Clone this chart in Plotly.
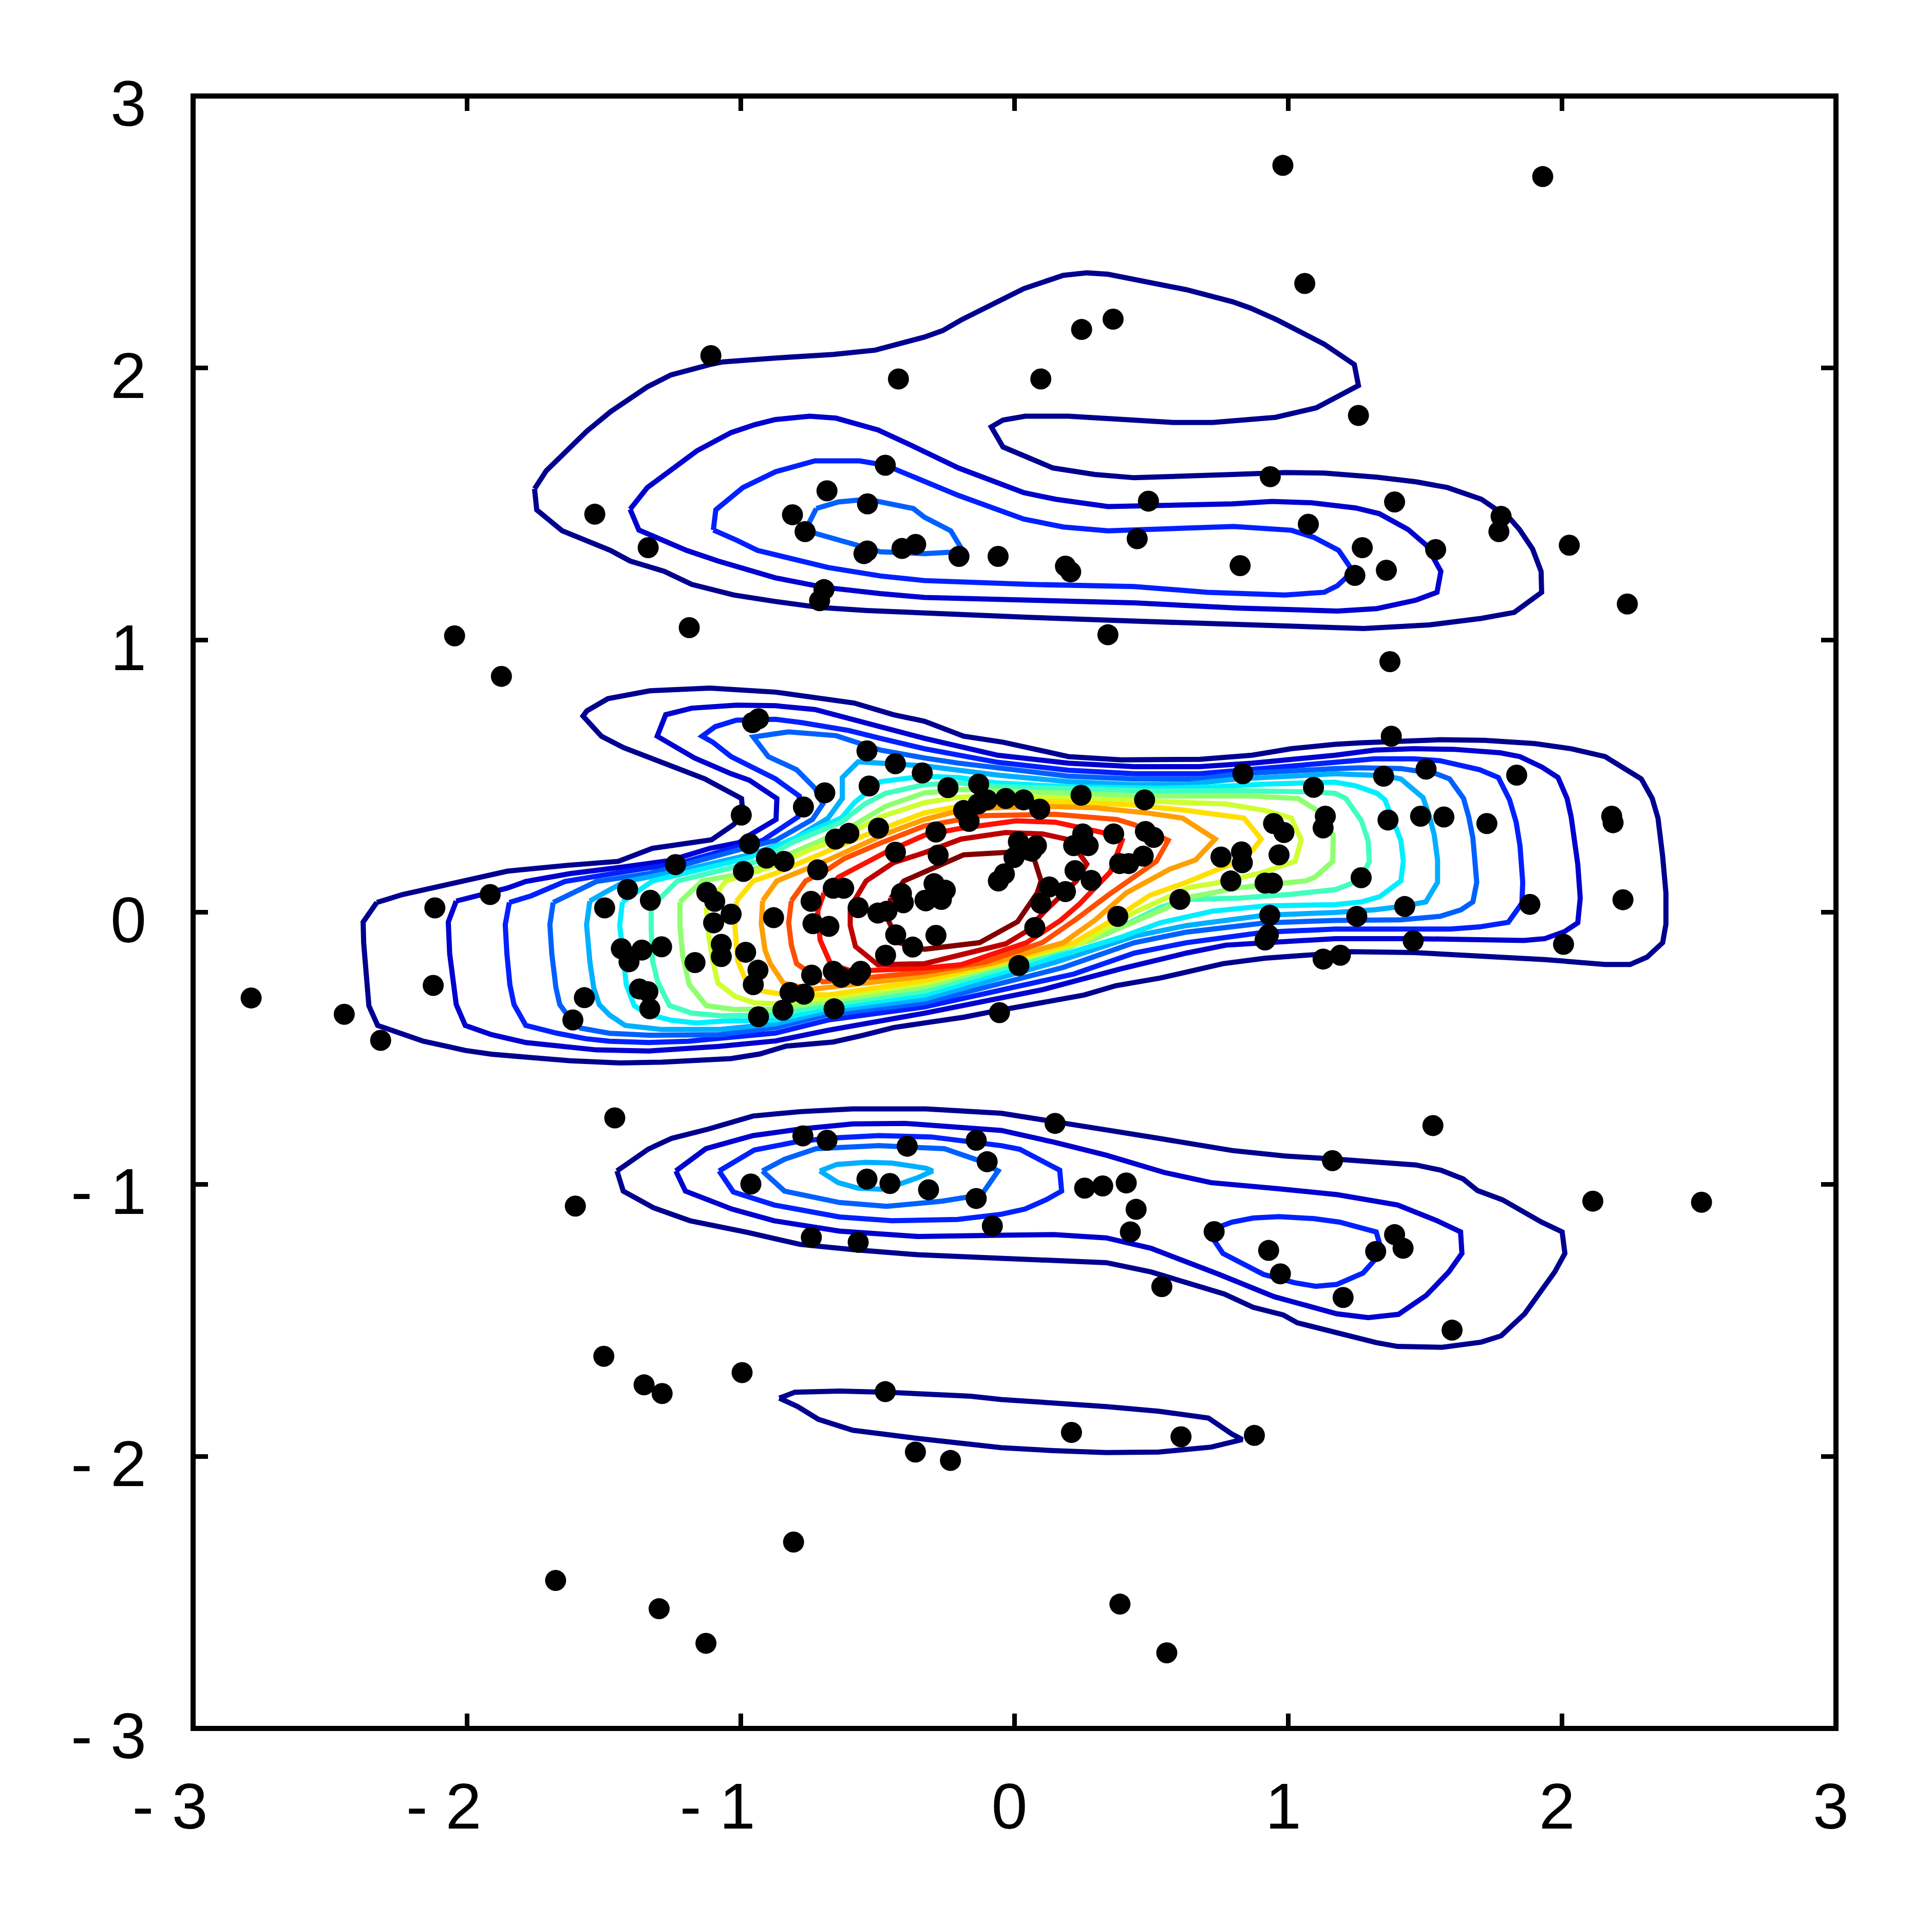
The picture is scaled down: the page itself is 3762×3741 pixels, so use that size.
import plotly.graph_objects as go

# ---------- scatter sample ----------
points_x = [-.957,-.935,-.539,-.435,-.337,-.531,-.693,-.771,-.998,-.968,-.906,-.842,-.990,-1.238,-1.413,-1.497,-1.330,-.497,-.654,-.605,-.435,-.719,-.743,-.662,-.624,-.571,-.499,-.466,-.413,-.406,-.327,-.434,-.372,-.471,-.736,-.678,-.880,-1.124,-1.095,-1.035,-1.099,-1.071,-1.071,-.982,-.937,-.954,-1.167,-1.289,-1.361,-1.436,-1.408,-1.370,-1.339,-1.332,-1.571,-1.613,-.741,-.820,-.769,-.846,-.935,-.659,-.662,-.633,-.574,-.562,
-.243,-.131,-.100,-.133,-.186,-.166,-.032,.033,.092,.243,.475,-.287,-.279,-.294,-.253,-.267,-.324,.014,.080,.063,-.002,-.037,-.059,.249,.216,.269,.362,.478,.508,.384,.417,.470,.221,.280,.127,.186,.096,-.287,.074,.016,-.055,.377,.604,.754,.829,.832,.790,.946,.984,.966,.915,.942,.834,1.092,1.135,1.127,.932,.915,.927,1.127,
1.376,1.348,1.503,1.834,1.364,1.483,1.568,1.725,2.181,2.186,1.266,1.425,1.882,2.222,1.250,1.456,2.005,1.190,
-2.448,-2.315,-2.123,-2.117,-1.915,-1.460,-2.788,-2.045,-1.874,-1.604,
-1.109,-.424,-1.533,-1.338,-.685,-.811,-.765,-.537,-.472,-.538,-.550,-.411,-.361,-.696,-.712,-1.188,
-.203,-.060,.186,.205,.245,.360,.096,.448,.489,.934,1.073,.824,.341,1.060,.980,
1.256,1.388,1.270,1.358,1.243,1.538,1.777,1.769,2.026,2.238,1.371,1.929,
-.773,-.685,-.392,-.140,-.100,-.963,-.539,-.455,-.314,-.140,-.081,-.742,-.571,-1.500,-1.353,-1.287,-.995,-.472,-.362,-.234,
.148,1.161,.256,.322,.408,.444,.423,.729,.928,.971,1.319,1.388,1.419,1.200,.538,.208,.608,.876,
1.528,2.112,1.598,2.509,-1.676,-1.298,-1.127,-.807,.385,.556]
points_y = [.697,.711,.593,.546,.512,.464,.439,.387,.357,.252,.199,.187,.150,.175,.084,.016,.044,.309,.269,.290,.221,.156,.040,.088,.088,.017,-.003,.004,.069,.035,.044,-.083,-.128,-.158,-.042,-.052,-.020,.073,.040,-.007,-.039,-.118,-.163,-.147,-.213,-.266,-.185,-.127,-.139,-.134,-.182,-.282,-.292,-.355,-.314,-.396,-.231,-.295,-.301,-.360,-.384,-.355,-.217,-.239,-.232,-.217,
.458,.471,.413,.398,.374,.334,.418,.413,.379,.430,.413,.295,.210,.105,.081,.047,.042,.259,.245,.225,.201,.141,.115,.288,.245,.245,.288,.297,.275,.179,.179,.206,.153,.117,.093,.076,.033,-.085,-.056,-.196,-.369,-.015,.047,.203,.222,.182,.115,.326,.293,.211,.107,.107,.509,.459,.353,.310,-.011,-.102,-.083,-.172,
.647,.500,.526,.504,.339,.353,.350,.326,.353,.329,.127,.021,.029,.046,-.015,-.105,-.118,-.158,
-.375,-.471,-.269,.016,.065,-.756,-.315,1.016,.867,-1.080,
2.046,1.960,1.463,1.340,1.549,1.461,1.399,1.501,1.643,1.328,1.318,1.337,1.352,1.186,1.145,1.046,
1.308,1.308,1.272,1.251,2.142,2.180,1.960,1.373,1.511,1.601,1.426,1.274,1.020,2.311,2.745,
1.826,1.508,1.340,1.257,1.238,1.333,1.455,1.399,1.349,1.133,.921,2.704,
-.822,-.838,-.860,-.838,-.917,-.999,-.981,-.997,-1.020,-1.052,-1.153,-1.195,-1.213,-1.632,-1.737,-1.769,-1.692,-1.762,-1.984,-2.015,
-.776,-.913,-1.014,-1.006,-.995,-1.092,-1.175,-1.174,-1.243,-1.329,-1.247,-1.185,-1.235,-1.416,-1.376,-1.912,-1.928,-1.923,
-.784,-1.062,-1.536,-1.066,-2.456,-2.560,-2.687,-2.315,-2.543,-2.722]

# ---------- contour levels (jet colormap, lowest to highest) ----------
level_colors = ["#00008F","#0000CF","#0020FF","#0060FF","#00AFFF","#00EFFF","#40FFBF","#8FFF70",
                "#CFFF30","#FFDF00","#FF9F00","#FF5000","#FF1000","#BF0000","#800000"]

# central band
mid_1 = [(-2.329,.036),(-2.379,-.036),(-2.377,-.113),(-2.367,-.248),(-2.358,-.344),(-2.326,-.416),(-2.245,-.445),(-2.159,-.474),(-2.073,-.493),(-2.006,-.508),(-1.910,-.522),(-1.785,-.532),(-1.623,-.546),(-1.441,-.554),(-1.288,-.551),(-1.035,-.538),(-.930,-.521),(-.834,-.492),(-.662,-.477),(-.557,-.453),(-.442,-.424),(-.329,-.407),(-.186,-.386),(-.090,-.367),(.102,-.333),(.255,-.304),(.370,-.270),(.532,-.242),(.762,-.189),(.915,-.169),(1.106,-.155),(1.219,-.145),(1.458,-.148),(1.650,-.158),(1.937,-.174),(2.157,-.192),(2.248,-.192),(2.310,-.165),(2.367,-.112),(2.379,-.044),(2.379,.071),(2.367,.206),(2.350,.346),(2.329,.418),(2.289,.490),(2.157,.572),(2.033,.601),(1.899,.620),(1.717,.632),(1.554,.634),(1.411,.630),(1.267,.623),(1.171,.617),(1.011,.601),(.867,.577),(.676,.562),(.389,.560),(.197,.572),(-.042,.625),(-.186,.647),(-.329,.702),(-.442,.726),(-.586,.769),(-.873,.809),(-1.112,.824),(-1.332,.814),(-1.485,.785),(-1.562,.740),(-1.576,.721),(-1.509,.647),(-1.428,.605),(-1.255,.538),(-1.131,.490),(-.997,.418),(-.992,.360),(-1.026,.322),(-1.107,.266),(-1.322,.235),(-1.447,.187),(-1.638,.172),(-1.852,.151),(-2.044,.108),(-2.235,.065)]
mid_2 = [(-2.039,.041),(-2.068,-.036),(-2.063,-.152),(-2.053,-.248),(-2.039,-.339),(-2.006,-.416),(-1.910,-.450),(-1.785,-.479),(-1.661,-.493),(-1.527,-.506),(-1.336,-.510),(-1.192,-.503),(-1.079,-.493),(-.873,-.473),(-.681,-.434),(-.329,-.371),(.101,-.285),(.389,-.208),(.628,-.150),(.772,-.121),(.915,-.112),(1.171,-.097),(1.458,-.097),(1.650,-.102),(1.860,-.104),(1.937,-.097),(2.009,-.071),(2.057,-.039),(2.066,.052),(2.057,.177),(2.047,.254),(2.033,.350),(2.018,.418),(1.985,.495),(1.927,.533),(1.846,.572),(1.774,.586),(1.602,.599),(1.458,.601),(1.315,.596),(1.171,.577),(1.011,.560),(.867,.548),(.676,.535),(.437,.535),(.197,.548),(-.061,.577),(-.329,.639),(-.490,.682),(-.633,.721),(-.729,.745),(-.873,.759),(-1.016,.761),(-1.179,.750),(-1.274,.726),(-1.305,.647),(-1.169,.567),(-1.035,.509),(-.968,.485),(-.868,.418),(-.871,.341),(-.968,.283),(-1.006,.256),(-1.112,.235),(-1.217,.201),(-1.259,.190),(-1.431,.166),(-1.623,.142),(-1.785,.113),(-1.852,.089)]
mid_3 = [(-1.845,.036),(-1.860,-.046),(-1.854,-.152),(-1.843,-.267),(-1.828,-.339),(-1.785,-.416),(-1.670,-.445),(-1.565,-.465),(-1.479,-.474),(-1.336,-.479),(-1.192,-.474),(-1.079,-.465),(-.873,-.444),(-.681,-.396),(-.329,-.348),(.217,-.227),(.437,-.150),(.628,-.112),(.915,-.073),(1.171,-.062),(1.363,-.064),(1.592,-.062),(1.698,-.054),(1.803,-.037),(1.853,.033),(1.856,.110),(1.846,.244),(1.832,.331),(1.808,.413),(1.767,.495),(1.698,.524),(1.554,.557),(1.458,.564),(1.315,.564),(1.171,.551),(1.011,.538),(.867,.526),(.676,.509),(.437,.509),(.197,.522),(-.061,.551),(-.205,.577),(-.329,.601),(-.490,.639),(-.605,.668),(-.777,.697),(-.873,.709),(-1.016,.706),(-1.093,.682),(-1.141,.647),(-1.102,.625),(-1.035,.572),(-.968,.538),(-.873,.490),(-.786,.427),(-.791,.350),(-.920,.264),(-.997,.245),(-1.217,.182),(-1.336,.161),(-1.498,.137),(-1.642,.113),(-1.766,.060)]
mid_4 = [(-1.685,.036),(-1.697,-.046),(-1.690,-.152),(-1.675,-.277),(-1.661,-.339),(-1.623,-.392),(-1.584,-.426),(-1.479,-.445),(-1.336,-.452),(-1.079,-.450),(-.873,-.424),(-.681,-.376),(-.329,-.333),(.178,-.203),(.437,-.112),(.628,-.073),(.915,-.039),(1.171,-.030),(1.410,-.028),(1.554,-.015),(1.631,.009),(1.674,.038),(1.688,.110),(1.683,.196),(1.674,.273),(1.659,.350),(1.640,.418),(1.589,.490),(1.540,.509),(1.411,.528),(1.267,.531),(1.171,.528),(.819,.509),(.676,.490),(.437,.490),(.197,.500),(-.061,.528),(-.205,.548),(-.329,.567),(-.490,.596),(-.652,.649),(-.825,.663),(-.954,.644),(-.899,.572),(-.796,.524),(-.729,.456),(-.700,.398),(-.738,.341),(-.872,.264),(-.987,.235),(-1.217,.172),(-1.336,.142),(-1.527,.113)]
mid_5 = [(-1.551,.041),(-1.563,-.046),(-1.551,-.181),(-1.537,-.277),(-1.517,-.339),(-1.479,-.378),(-1.422,-.416),(-1.288,-.431),(-1.079,-.431),(-.873,-.410),(-.681,-.364),(-.329,-.319),(.149,-.184),(.437,-.088),(.628,-.049),(.915,-.011),(1.171,-.001),(1.315,.009),(1.411,.021),(1.502,.038),(1.545,.110),(1.545,.192),(1.533,.283),(1.516,.350),(1.492,.421),(1.411,.490),(1.344,.502),(1.267,.506),(1.171,.509),(.819,.490),(.628,.471),(.437,.469),(.197,.480),(-.061,.504),(-.205,.524),(-.329,.538),(-.571,.553),(-.629,.495),(-.629,.418),(-.681,.346),(-.815,.264),(-.968,.211),(-1.217,.153),(-1.307,.137),(-1.422,.113),(-1.494,.074)]
mid_6 = [(-1.432,.038),(-1.442,-.049),(-1.432,-.131),(-1.418,-.266),(-1.389,-.343),(-1.345,-.373),(-1.254,-.397),(-1.163,-.407),(-1.064,-.400),(-.873,-.396),(-.681,-.352),(-.329,-.304),(.101,-.179),(.389,-.092),(.532,-.039),(.724,.004),(.915,.023),(1.171,.028),(1.267,.038),(1.334,.057),(1.411,.115),(1.420,.187),(1.411,.264),(1.353,.413),(1.324,.437),(1.248,.464),(1.171,.478),(.915,.471),(.724,.461),(.532,.456),(.197,.461),(-.061,.475),(-.205,.495),(-.329,.500),(-.490,.480),(-.542,.437),(-.585,.403),(-.633,.346),(-.801,.273),(-.968,.201),(-1.322,.115)]
mid_7 = [(-1.327,.009),(-1.327,-.063),(-1.322,-.179),(-1.303,-.256),(-1.260,-.343),(-1.179,-.371),(-1.064,-.381),(-.873,-.376),(-.681,-.341),(-.329,-.290),(.054,-.179),(.341,-.078),(.532,.018),(.628,.047),(.819,.052),(1.011,.066),(1.171,.083),(1.229,.105),(1.267,.129),(1.296,.187),(1.291,.264),(1.267,.336),(1.210,.418),(1.171,.437),(1.092,.442),(.819,.447),(.532,.445),(.197,.452),(-.042,.461),(-.205,.475),(-.329,.469),(-.471,.437),(-.547,.398),(-.633,.331),(-.806,.259),(-.940,.187),(-1.231,.115),(-1.294,.052)]
mid_8 = [(-1.222,.038),(-1.222,-.049),(-1.212,-.160),(-1.188,-.266),(-1.126,-.343),(-1.026,-.357),(-.873,-.356),(-.681,-.328),(-.329,-.275),(.025,-.174),(.283,-.102),(.484,-.015),(.647,.057),(.819,.090),(.977,.105),(1.063,.115),(1.097,.129),(1.162,.187),(1.164,.283),(1.106,.374),(1.035,.418),(.867,.427),(.484,.427),(.197,.439),(-.042,.447),(-.186,.451),(-.329,.439),(-.471,.389),(-.585,.321),(-.729,.254),(-.987,.143),(-1.141,.115)]
mid_9 = [(-1.126,.018),(-1.116,-.092),(-1.102,-.179),(-1.083,-.261),(-1.021,-.309),(-.949,-.333),(-.873,-.336),(-.681,-.316),(-.329,-.261),(-.013,-.179),(.245,-.112),(.437,-.001),(.637,.091),(.724,.105),(.896,.143),(1.025,.187),(1.047,.266),(1.011,.346),(.915,.374),(.772,.398),(.513,.408),(.197,.418),(-.042,.427),(-.205,.423),(-.329,.403),(-.490,.350),(-.633,.273),(-.748,.230),(-.873,.172),(-1.054,.115)]
mid_10 = [(-1.016,.040),(-1.021,-.054),(-1.011,-.179),(-.983,-.246),(-.920,-.290),(-.863,-.299),(-.681,-.304),(-.329,-.251),(-.061,-.189),(.217,-.112),(.341,-.039),(.494,.062),(.628,.110),(.790,.177),(.867,.225),(.901,.269),(.838,.346),(.628,.374),(.437,.394),(.130,.408),(-.205,.389),(-.329,.365),(-.547,.283),(-.777,.182),(-.873,.143),(-.954,.115)]
mid_11 = [(-.920,.042),(-.925,-.044),(-.911,-.140),(-.892,-.189),(-.844,-.261),(-.739,-.283),(-.329,-.235),(-.090,-.189),(.178,-.112),(.293,-.030),(.408,.071),(.566,.158),(.661,.192),(.733,.269),(.614,.346),(.484,.365),(.293,.384),(.130,.389),(-.071,.384),(-.214,.370),(-.329,.341),(-.471,.288),(-.681,.192),(-.777,.153),(-.868,.115)]
mid_12 = [(-.815,.042),(-.825,-.039),(-.815,-.121),(-.796,-.189),(-.700,-.256),(-.329,-.220),(-.109,-.184),(.101,-.112),(.226,-.025),(.341,.062),(.518,.187),(.561,.264),(.437,.322),(.374,.341),(.149,.360),(-.119,.355),(-.329,.317),(-.490,.254),(-.624,.196),(-.681,.158),(-.763,.115)]
mid_13 = [(-.696,.071),(-.719,.004),(-.710,-.102),(-.672,-.189),(-.595,-.217),(-.329,-.205),(-.195,-.193),(.044,-.112),(.168,-.030),(.235,.028),(.350,.148),(.393,.264),(.322,.293),(.283,.302),(.149,.331),(.006,.336),(-.119,.321),(-.205,.307),(-.329,.283),(-.471,.220),(-.643,.129)]
mid_14 = [(-.600,.018),(-.600,-.049),(-.581,-.126),(-.499,-.193),(-.329,-.189),(-.032,-.116),(.039,-.073),(.111,.004),(.226,.115),(.264,.177),(.240,.211),(.188,.269),(.101,.288),(-.032,.293),(-.195,.269),(-.329,.219),(-.442,.182),(-.542,.115)]
mid_15 = [(-.452,.052),(-.463,-.025),(-.423,-.112),(-.329,-.136),(-.128,-.112),(.011,-.035),(.083,.071),(.097,.115),(.073,.192),(-.032,.220),(-.186,.211),(-.329,.150),(-.404,.115)]

# upper band
top_1 = [(-1.753,1.556),(-1.745,1.479),(-1.652,1.402),(-1.562,1.364),(-1.476,1.330),(-1.404,1.291),(-1.279,1.253),(-1.179,1.205),(-1.026,1.166),(-.873,1.142),(-.710,1.120),(-.538,1.109),(-.329,1.099),(.054,1.084),(.437,1.070),(.819,1.056),(1.083,1.046),(1.275,1.043),(1.514,1.056),(1.705,1.080),(1.825,1.102),(1.925,1.176),(1.923,1.253),(1.892,1.335),(1.844,1.407),(1.811,1.445),(1.705,1.518),(1.581,1.561),(1.466,1.582),(1.323,1.599),(1.131,1.614),(.988,1.616),(.796,1.609),(.628,1.604),(.437,1.597),(.293,1.609),(.140,1.633),(-.042,1.710),(-.085,1.784),(-.042,1.809),(.039,1.823),(.197,1.823),(.389,1.811),(.580,1.800),(.724,1.800),(.953,1.819),(1.102,1.854),(1.256,1.936),(1.241,2.013),(1.131,2.088),(.959,2.177),(.863,2.220),(.796,2.244),(.628,2.288),(.341,2.345),(.264,2.350),(.178,2.341),(.034,2.292),(-.052,2.249),(-.195,2.177),(-.262,2.138),(-.329,2.114),(-.509,2.066),(-.662,2.050),(-.873,2.037),(-1.064,2.023),(-1.112,2.013),(-1.255,1.975),(-1.341,1.931),(-1.408,1.888),(-1.475,1.840),(-1.562,1.768),(-1.629,1.705),(-1.710,1.623)]
top_2 = [(-1.404,1.481),(-1.372,1.405),(-1.198,1.330),(-1.083,1.291),(-.873,1.229),(-.700,1.195),(-.490,1.171),(-.329,1.157),(.054,1.147),(.437,1.137),(.819,1.118),(1.083,1.107),(1.179,1.107),(1.323,1.116),(1.466,1.147),(1.543,1.176),(1.557,1.253),(1.504,1.349),(1.437,1.407),(1.332,1.465),(1.246,1.486),(1.083,1.505),(.940,1.510),(.796,1.501),(.628,1.498),(.341,1.491),(.150,1.518),(.034,1.542),(-.205,1.633),(-.329,1.696),(-.375,1.715),(-.499,1.773),(-.566,1.792),(-.652,1.816),(-.748,1.823),(-.873,1.811),(-.949,1.792),(-1.035,1.763),(-1.160,1.696),(-1.255,1.628),(-1.341,1.561)]
top_3 = [(-1.100,1.405),(-1.091,1.479),(-.992,1.561),(-.873,1.619),(-.729,1.659),(-.566,1.659),(-.471,1.643),(-.329,1.585),(-.205,1.532),(.034,1.445),(.178,1.416),(.341,1.402),(.628,1.412),(.800,1.418),(1.011,1.404),(1.093,1.378),(1.184,1.330),(1.236,1.253),(1.179,1.200),(1.131,1.176),(.988,1.166),(.704,1.176),(.437,1.197),(.054,1.205),(-.329,1.219),(-.490,1.236),(-.681,1.267),(-.939,1.330),(-1.016,1.368)]
top_4 = [(-.724,1.484),(-.643,1.508),(-.538,1.518),(-.370,1.484),(-.329,1.452),(-.233,1.402),(-.195,1.339),(-.203,1.325),(-.329,1.318),(-.490,1.325),(-.729,1.393),(-.753,1.426)]

# lower band
low_1 = [(-1.452,-.951),(-1.429,-1.025),(-1.319,-1.086),(-1.185,-1.134),(-.974,-1.177),(-.783,-1.221),(-.591,-1.240),(-.352,-1.259),(-.048,-1.272),(.335,-1.288),(.498,-1.322),(.766,-1.403),(.871,-1.452),(.981,-1.480),(1.033,-1.509),(1.234,-1.562),(1.321,-1.582),(1.399,-1.596),(1.562,-1.599),(1.705,-1.580),(1.777,-1.557),(1.863,-1.476),(1.935,-1.379),(1.973,-1.322),(2.010,-1.254),(2.000,-1.175),(1.925,-1.139),(1.782,-1.057),(1.691,-1.023),(1.638,-.980),(1.557,-.948),(1.466,-.929),(1.179,-.908),(.988,-.896),(.796,-.876),(.718,-.864),(.526,-.831),(.335,-.800),(.143,-.768),(-.048,-.739),(-.323,-.723),(-.591,-.723),(-.783,-.733),(-.955,-.749),(-1.118,-.797),(-1.252,-.831),(-1.338,-.871)]
low_2 = [(-1.237,-.951),(-1.202,-1.025),(-1.032,-1.091),(-.878,-1.134),(-.639,-1.172),(-.352,-1.192),(-.048,-1.187),(.143,-1.185),(.335,-1.197),(.498,-1.235),(.747,-1.331),(.948,-1.413),(1.177,-1.476),(1.292,-1.490),(1.402,-1.478),(1.504,-1.408),(1.586,-1.322),(1.634,-1.254),(1.629,-1.175),(1.543,-1.134),(1.399,-1.076),(1.179,-1.038),(.959,-1.016),(.796,-1.002),(.718,-.994),(.545,-.956),(.335,-.893),(.143,-.845),(-.048,-.802),(-.400,-.776),(-.591,-.778),(-.783,-.797),(-.955,-.821),(-1.127,-.869)]
low_3 = [(-1.079,-.951),(-1.027,-1.028),(-.878,-1.076),(-.639,-1.120),(-.448,-1.134),(-.208,-1.129),(-.048,-1.110),(.038,-1.091),(.115,-1.057),(.172,-1.025),(.165,-.948),(.077,-.900),(.019,-.871),(-.048,-.858),(-.304,-.826),(-.496,-.821),(-.687,-.831),(-.802,-.845),(-.950,-.874)]
low_4 = [(-.921,-.951),(-.840,-1.025),(-.639,-1.067),(-.467,-1.081),(-.266,-1.062),(-.142,-1.042),(-.113,-1.028),(-.060,-.951),(-.132,-.912),(-.256,-.869),(-.496,-.858),(-.725,-.869),(-.840,-.908)]
low_5 = [(-.711,-.951),(-.644,-.994),(-.572,-1.014),(-.486,-1.018),(-.419,-.999),(-.352,-.975),(-.299,-.951),(-.323,-.941),(-.448,-.922),(-.543,-.919),(-.649,-.927)]
low_right_3 = [(.756,-1.153),(.794,-1.139),(.871,-1.124),(.966,-1.119),(1.091,-1.126),(1.187,-1.139),(1.321,-1.175),(1.335,-1.225),(1.311,-1.283),(1.273,-1.326),(1.177,-1.368),(1.100,-1.375),(1.024,-1.362),(.909,-1.331),(.761,-1.254),(.729,-1.206)]

# small bottom island
foot_1 = [(-.859,-1.786),(-.802,-1.764),(-.639,-1.760),(-.472,-1.764),(-.161,-1.779),(-.048,-1.791),(.335,-1.817),(.526,-1.834),(.708,-1.859),(.794,-1.918),(.832,-1.938),(.718,-1.966),(.526,-1.984),(.335,-1.986),(.143,-1.979),(-.048,-1.968),(-.362,-1.933),(-.591,-1.904),(-.716,-1.864),(-.792,-1.817)]

contours = [
    (0, mid_1), (1, mid_2), (2, mid_3), (3, mid_4), (4, mid_5), (5, mid_6), (6, mid_7), (7, mid_8),
    (8, mid_9), (9, mid_10), (10, mid_11), (11, mid_12), (12, mid_13), (13, mid_14), (14, mid_15),
    (0, top_1), (1, top_2), (2, top_3), (3, top_4),
    (0, low_1), (1, low_2), (2, low_3), (3, low_4), (4, low_5), (2, low_right_3),
    (0, foot_1),
]

x_ticks = [-3, -2, -1, 0, 1, 2, 3]
y_ticks = [-3, -2, -1, 0, 1, 2, 3]
x_tick_labels = ["- 3\u00a0\u00a0", "- 2\u00a0\u00a0", "- 1\u00a0\u00a0", "0", "1", "2", "3"]
y_tick_labels = ["- 3", "- 2", "- 1", "0", "1", "2", "3"]

fig = go.Figure()
for level, path in contours:
    closed = path + [path[0]]
    fig.add_trace(go.Scatter(
        x=[p[0] for p in closed], y=[p[1] for p in closed], mode="lines",
        line=dict(color=level_colors[level], width=10), hoverinfo="skip", showlegend=False))
fig.add_trace(go.Scatter(
    x=points_x, y=points_y, mode="markers",
    marker=dict(color="black", size=41, line=dict(width=0)), showlegend=False))

tick_font = dict(family="Liberation Sans", size=126, color="black")
common = dict(range=[-3, 3], showgrid=False, zeroline=False, showline=False, ticks="inside", ticklen=29,
              tickwidth=9, tickcolor="black", tickmode="array", mirror="allticks", tickfont=tick_font)
fig.update_layout(
    width=3762, height=3741, paper_bgcolor="white", plot_bgcolor="white", showlegend=False,
    margin=dict(l=368, r=195, t=179, b=383, pad=0),
    xaxis=dict(tickvals=x_ticks, ticktext=x_tick_labels, ticklabelshift=-10, ticklabelstandoff=68, **common),
    yaxis=dict(tickvals=y_ticks, ticktext=y_tick_labels, ticklabelshift=14, ticklabelstandoff=90, **common),
    shapes=[dict(type="rect", xref="paper", yref="paper", x0=0, x1=1, y0=0, y1=1,
                 line=dict(color="black", width=10), layer="above")],
)
fig.write_html("out.html")
